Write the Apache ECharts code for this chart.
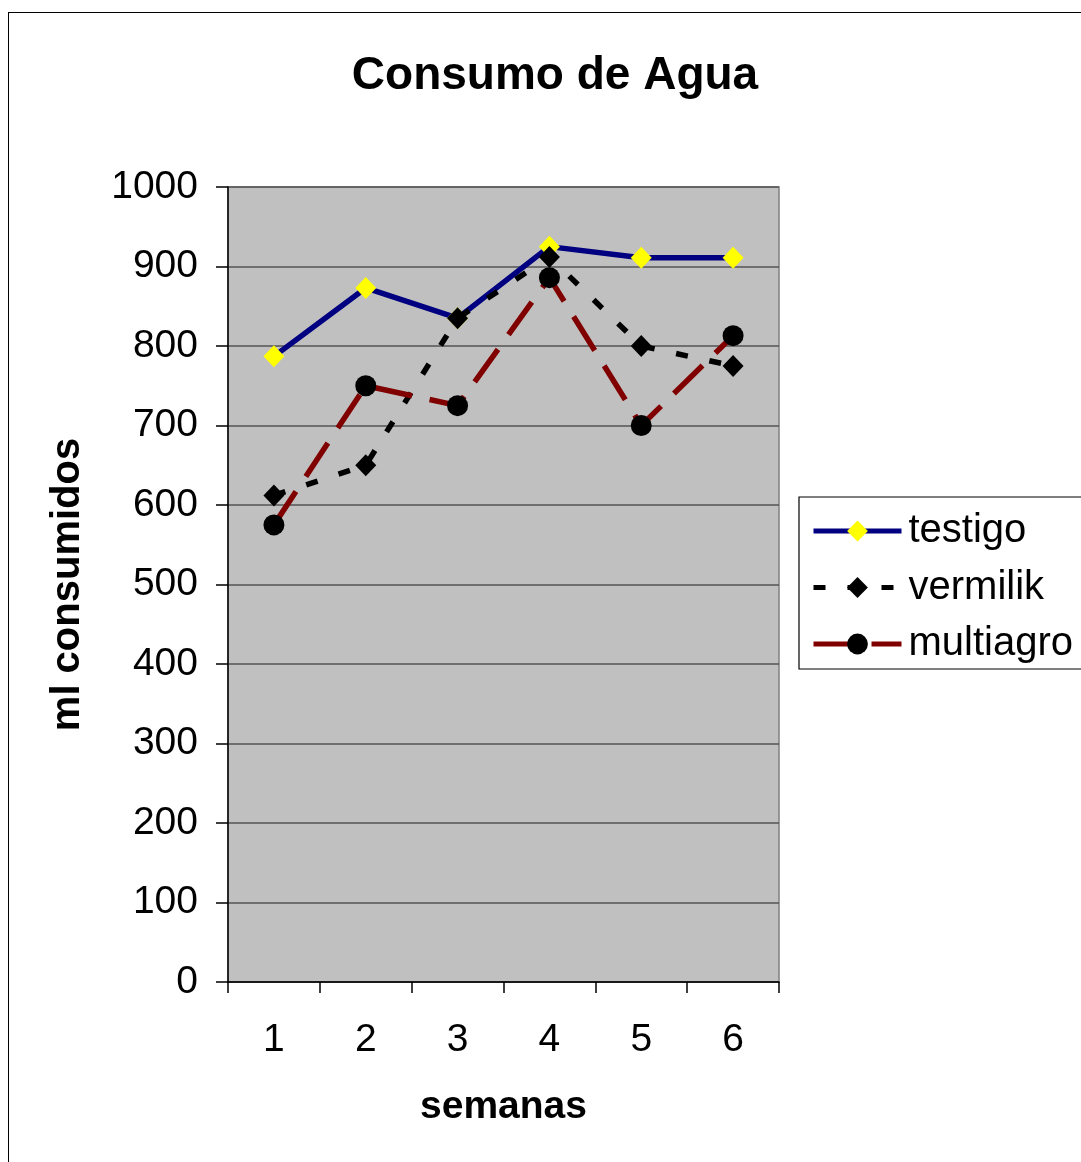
<!DOCTYPE html>
<html><head><meta charset="utf-8">
<script src="https://cdn.jsdelivr.net/npm/echarts@6/dist/echarts.min.js"></script>
<style>
html,body{margin:0;padding:0;background:#fff;}
#frame{position:absolute;left:8px;top:12px;width:1080px;height:1160px;border-left:1.5px solid #000;border-top:1.5px solid #000;box-sizing:border-box;}
#c{position:absolute;left:0;top:0;width:1081px;height:1162px;}
</style></head>
<body>
<div id="frame"></div>
<div id="c"></div>
<script>
const categories = ['1','2','3','4','5','6'];
const testigo = [787, 873, 835, 925, 911, 911];
const vermilik = [612, 650, 835, 912, 800, 775];
const multiagro = [575, 750, 725, 886, 700, 813];
const yTicks = [0,100,200,300,400,500,600,700,800,900,1000];

const chart = echarts.init(document.getElementById('c'), null, {renderer:'canvas'});
const font = 'Arial, "Liberation Sans", sans-serif';
chart.setOption({
  backgroundColor: 'transparent',
  animation: false,
  title: {
    text: 'Consumo de Agua', left: 550, top: 48, textAlign: 'center',
    textStyle: {fontFamily: font, fontSize: 46, fontWeight: 'bold', color: '#000'}
  },
  legend: {
    left: 799, top: 497, orient: 'vertical',
    padding: [14, 12, 5, 12],
    borderColor: '#000', borderWidth: 1.2,
    backgroundColor: '#fff',
    itemWidth: 88, itemHeight: 26, itemGap: 16.5,
    lineStyle: {width: 5},
    textStyle: {fontFamily: font, fontSize: 40, color: '#000', padding:[0,0,0,2]},
    data: ['testigo','vermilik','multiagro']
  },
  grid: {
    left: 228, top: 187, width: 551, height: 795,
    show: true, backgroundColor: '#c0c0c0', borderColor: '#808080', borderWidth: 1.5
  },
  xAxis: {
    type: 'category', data: categories, boundaryGap: true,
    name: 'semanas', nameLocation: 'middle', nameGap: 106,
    nameTextStyle: {fontFamily: font, fontSize: 39, fontWeight: 'bold', color: '#000'},
    axisLine: {lineStyle: {color: '#000', width: 1.5}},
    axisTick: {show: true, length: 11, inside: false, lineStyle: {color: '#000', width: 1.5}},
    axisLabel: {fontFamily: font, fontSize: 39, color: '#000', margin: 39},
    splitLine: {show: false}
  },
  yAxis: {
    type: 'value', min: 0, max: 1000, interval: 100,
    name: 'ml consumidos', nameLocation: 'middle', nameGap: 140, nameRotate: 90,
    nameTextStyle: {fontFamily: font, fontSize: 40, fontWeight: 'bold', color: '#000'},
    axisLine: {show: true, lineStyle: {color: '#000', width: 1.5}},
    axisTick: {show: true, length: 12, inside: false, lineStyle: {color: '#000', width: 1.5}},
    axisLabel: {fontFamily: font, fontSize: 39, color: '#000', margin: 30,
      formatter: v => yTicks.includes(v) ? String(v) : ''},
    splitLine: {show: true, lineStyle: {color: '#555', width: 1.5}}
  },
  series: [
    {
      name: 'testigo', type: 'line', data: testigo,
      symbol: 'diamond', symbolSize: [21, 22],
      lineStyle: {color: '#000080', width: 5.5, type: 'solid'},
      itemStyle: {color: '#ffff00', borderWidth: 0},
      z: 3
    },
    {
      name: 'vermilik', type: 'line', data: vermilik,
      symbol: 'diamond', symbolSize: [21, 22],
      lineStyle: {color: '#000', width: 5.5, type: [12, 22]},
      itemStyle: {color: '#000', borderWidth: 0},
      z: 4
    },
    {
      name: 'multiagro', type: 'line', data: multiagro,
      symbol: 'circle', symbolSize: 21,
      lineStyle: {color: '#800000', width: 5.5, type: [40, 18]},
      itemStyle: {color: '#000', borderWidth: 0},
      z: 5
    }
  ]
});
</script>
</body></html>
